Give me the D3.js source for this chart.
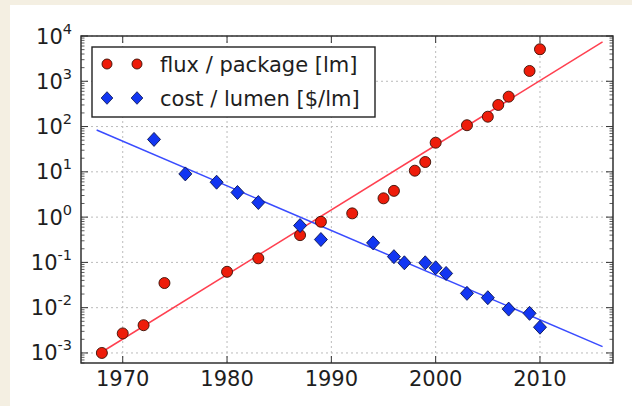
<!DOCTYPE html>
<html>
<head>
<meta charset="utf-8">
<script src="https://cdn.jsdelivr.net/npm/d3@7/dist/d3.min.js"></script>
<style>
  html, body { margin: 0; padding: 0; background: #f4efe2; }
  svg { display: block; font-family: "DejaVu Sans", sans-serif; }
</style>
</head>
<body>
<svg id="chart" width="632" height="406"></svg>
<script>
// flux per package (red circles)
var fluxYears = [1968, 1970, 1972, 1974, 1980, 1983, 1987, 1989, 1992, 1995,
                 1996, 1998, 1999, 2000, 2003, 2005, 2006, 2007, 2009, 2010];
var fluxValues = [0.001, 0.0027, 0.0041, 0.035, 0.062, 0.123, 0.40, 0.79, 1.21, 2.6,
                  3.8, 10.6, 16.5, 44, 107, 165, 300, 457, 1690, 5100];

// cost per lumen (blue diamonds)
var costYears = [1973, 1976, 1979, 1981, 1983, 1987, 1989, 1994, 1996, 1997,
                 1999, 2000, 2001, 2003, 2005, 2007, 2009, 2010];
var costValues = [52, 9, 5.9, 3.5, 2.1, 0.65, 0.32, 0.27, 0.134, 0.098,
                  0.098, 0.076, 0.057, 0.0207, 0.0166, 0.0093, 0.0075, 0.0037];

// fitted trend lines (end points)
var fluxFitYears = [1968, 2016];
var fluxFitValues = [0.00105, 7400];
var costFitYears = [1967.5, 2016];
var costFitValues = [84, 0.00138];

var xTicks = [1970, 1980, 1990, 2000, 2010];
var yExponents = [-3, -2, -1, 0, 1, 2, 3, 4];
var legendLabels = ['flux / package [lm]', 'cost / lumen [$/lm]'];

var xDomain = [1966, 2017];
var yDomain = [6e-4, 1e4];

var svg = d3.select('#chart');

// white panel over the beige page
svg.append('rect')
  .attr('x', 10).attr('y', 5)
  .attr('width', 622).attr('height', 401)
  .attr('fill', '#ffffff');

var pLeft = 81, pRight = 613, pTop = 36, pBottom = 363;

var xScale = d3.scaleLinear().domain(xDomain).range([pLeft, pRight]);
var yScale = d3.scaleLog().domain(yDomain).range([pBottom, pTop]);

var plot = svg.append('g');

// grid
plot.selectAll('line.xgrid')
  .data(xTicks)
  .enter()
  .append('line')
  .attr('x1', function(d) { return xScale(d); })
  .attr('x2', function(d) { return xScale(d); })
  .attr('y1', pTop).attr('y2', pBottom)
  .attr('stroke', '#bbbbbb')
  .attr('stroke-width', 1)
  .attr('stroke-dasharray', '2,3');

plot.selectAll('line.ygrid')
  .data(yExponents)
  .enter()
  .append('line')
  .attr('x1', pLeft).attr('x2', pRight)
  .attr('y1', function(d) { return yScale(Math.pow(10, d)); })
  .attr('y2', function(d) { return yScale(Math.pow(10, d)); })
  .attr('stroke', '#bbbbbb')
  .attr('stroke-width', 1)
  .attr('stroke-dasharray', '2,3');

// trend lines
var line = d3.line()
  .x(function(d) { return xScale(d[0]); })
  .y(function(d) { return yScale(d[1]); });

plot.append('path')
  .datum(d3.zip(fluxFitYears, fluxFitValues))
  .attr('d', line)
  .attr('fill', 'none')
  .attr('stroke', '#ff4050')
  .attr('stroke-width', 1.5);

plot.append('path')
  .datum(d3.zip(costFitYears, costFitValues))
  .attr('d', line)
  .attr('fill', 'none')
  .attr('stroke', '#3a4cff')
  .attr('stroke-width', 1.5);

// markers
var redFill = '#ee1c0a', blueFill = '#1236f2';
var diamond = 'M0,-7L6.5,0L0,7L-6.5,0Z';

plot.selectAll('circle.flux')
  .data(d3.zip(fluxYears, fluxValues))
  .enter()
  .append('circle')
  .attr('cx', function(d) { return xScale(d[0]); })
  .attr('cy', function(d) { return yScale(d[1]); })
  .attr('r', 5.5)
  .attr('fill', redFill)
  .attr('stroke', '#3a1005')
  .attr('stroke-width', 0.9);

plot.selectAll('path.cost')
  .data(d3.zip(costYears, costValues))
  .enter()
  .append('path')
  .attr('d', diamond)
  .attr('transform', function(d) {
    return 'translate(' + xScale(d[0]) + ',' + yScale(d[1]) + ')';
  })
  .attr('fill', blueFill)
  .attr('stroke', '#0a1450')
  .attr('stroke-width', 0.9);

// frame
svg.append('rect')
  .attr('x', pLeft).attr('y', pTop)
  .attr('width', pRight - pLeft).attr('height', pBottom - pTop)
  .attr('fill', 'none')
  .attr('stroke', '#222')
  .attr('stroke-width', 1.4);

// ticks (inward, all four sides)
var tickColor = '#333';
xTicks.forEach(function(t) {
  var x = xScale(t);
  svg.append('line').attr('x1', x).attr('x2', x).attr('y1', pBottom).attr('y2', pBottom - 7)
    .attr('stroke', tickColor).attr('stroke-width', 1);
  svg.append('line').attr('x1', x).attr('x2', x).attr('y1', pTop).attr('y2', pTop + 7)
    .attr('stroke', tickColor).attr('stroke-width', 1);
});

var minorVals = [];
for (var e = -4; e <= 3; e++) {
  for (var m = 2; m <= 9; m++) {
    var v = m * Math.pow(10, e);
    if (v >= yDomain[0] && v <= yDomain[1]) minorVals.push(v);
  }
}
yExponents.forEach(function(e) {
  var y = yScale(Math.pow(10, e));
  svg.append('line').attr('x1', pLeft).attr('x2', pLeft + 7).attr('y1', y).attr('y2', y)
    .attr('stroke', tickColor).attr('stroke-width', 1);
  svg.append('line').attr('x1', pRight).attr('x2', pRight - 7).attr('y1', y).attr('y2', y)
    .attr('stroke', tickColor).attr('stroke-width', 1);
});
minorVals.forEach(function(v) {
  var y = yScale(v);
  svg.append('line').attr('x1', pLeft).attr('x2', pLeft + 3.5).attr('y1', y).attr('y2', y)
    .attr('stroke', tickColor).attr('stroke-width', 0.8);
  svg.append('line').attr('x1', pRight).attr('x2', pRight - 3.5).attr('y1', y).attr('y2', y)
    .attr('stroke', tickColor).attr('stroke-width', 0.8);
});

// tick labels
svg.selectAll('text.xlab')
  .data(xTicks)
  .enter()
  .append('text')
  .attr('x', function(d) { return xScale(d); })
  .attr('y', 386)
  .attr('text-anchor', 'middle')
  .attr('font-size', 21)
  .attr('fill', '#1e1e1e')
  .text(function(d) { return d; });

var ylab = svg.selectAll('text.ylab')
  .data(yExponents)
  .enter()
  .append('text')
  .attr('x', 72)
  .attr('y', function(d) { return yScale(Math.pow(10, d)) + 7.5; })
  .attr('text-anchor', 'end')
  .attr('fill', '#1e1e1e');
ylab.append('tspan')
  .attr('font-size', 21)
  .text('10');
ylab.append('tspan')
  .attr('font-size', 14.5)
  .attr('dy', -10)
  .text(function(d) { return d < 0 ? '-' + (-d) : String(d); });

// legend
var legend = svg.append('g');
legend.append('rect')
  .attr('x', 92).attr('y', 47)
  .attr('width', 283).attr('height', 70)
  .attr('fill', '#fff')
  .attr('stroke', '#222')
  .attr('stroke-width', 1.4);

var rowY = [64, 98];
[107, 137].forEach(function(mx) {
  legend.append('circle')
    .attr('cx', mx).attr('cy', rowY[0]).attr('r', 5)
    .attr('fill', redFill).attr('stroke', '#3a1005').attr('stroke-width', 0.9);
  legend.append('path')
    .attr('d', diamond)
    .attr('transform', 'translate(' + mx + ',' + rowY[1] + ') scale(0.9)')
    .attr('fill', blueFill).attr('stroke', '#0a1450').attr('stroke-width', 0.9);
});

legend.selectAll('text')
  .data(legendLabels)
  .enter()
  .append('text')
  .attr('x', 160)
  .attr('y', function(d, i) { return rowY[i] + 7.5; })
  .attr('font-size', 21)
  .attr('fill', '#1e1e1e')
  .text(function(d) { return d; });
</script>
</body>
</html>
